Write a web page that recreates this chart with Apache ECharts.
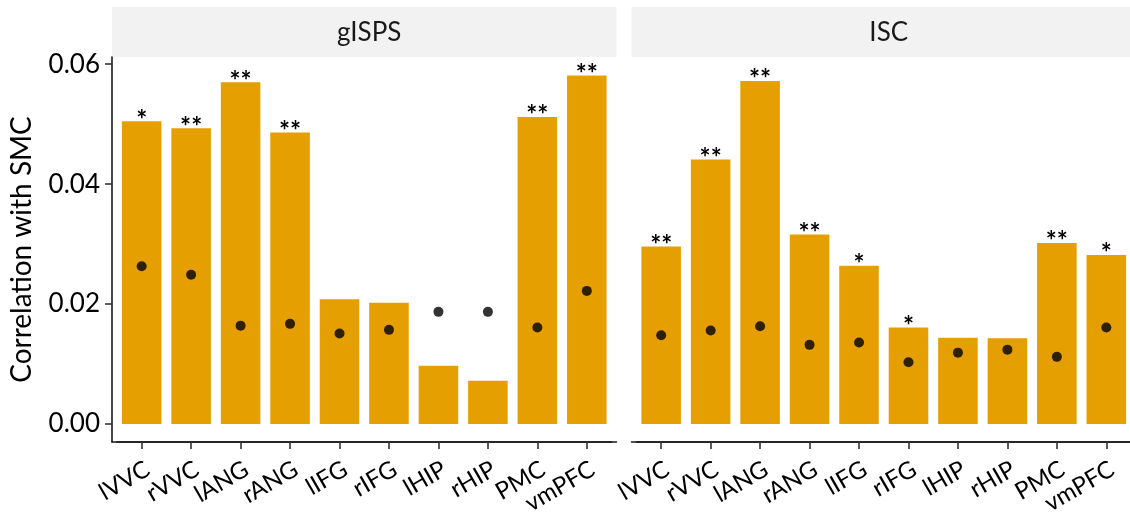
<!DOCTYPE html>
<html>
<head>
<meta charset="utf-8">
<script src="https://cdn.jsdelivr.net/npm/echarts@6/dist/echarts.min.js"></script>
<style>
html,body{margin:0;padding:0;background:#fff;}
#chart{width:1130px;height:514px;}
</style>
</head>
<body>
<div id="chart"></div>
<script>
const categories = ['lVVC','rVVC','lANG','rANG','lIFG','rIFG','lHIP','rHIP','PMC','vmPFC'];
const panels = ['gISPS','ISC'];
const yTicks = [0, 0.02, 0.04, 0.06];

const gispsBars = [0.0505, 0.0493, 0.0570, 0.0486, 0.0208, 0.0202, 0.0097, 0.0072, 0.0512, 0.0581];
const gispsDots = [0.0263, 0.0249, 0.0164, 0.0167, 0.0151, 0.0157, 0.0187, 0.0187, 0.0161, 0.0222];
const gispsStars = ['*','**','**','**','','','','','**','**'];

const iscBars = [0.0296, 0.0441, 0.0572, 0.0316, 0.0264, 0.0161, 0.0144, 0.0143, 0.0302, 0.0282];
const iscDots = [0.0148, 0.0156, 0.0163, 0.0132, 0.0136, 0.0103, 0.0119, 0.0124, 0.0112, 0.0161];
const iscStars = ['**','**','**','**','*','*','','','**','*'];

const FONT = 'Lato';
const barColor = '#E69F00';
const chart = echarts.init(document.getElementById('chart'), null, {renderer:'canvas'});

// panel geometry (ggplot discrete expansion of 0.6 band on each side)
const PANEL_W = 504.5, TOP = 57, H = 385;
const panelLefts = [112, 631.5];
const band = PANEL_W / 10.2;
const inset = 0.1 * band;
const YMIN = -0.003, YMAX = 0.0612;

const grids = [];
panelLefts.forEach(l => grids.push({left: l, top: TOP, width: PANEL_W, height: H, outerBoundsMode: 'none', containLabel: false}));
panelLefts.forEach(l => grids.push({left: l + inset, top: TOP, width: PANEL_W - 2 * inset, height: H, outerBoundsMode: 'none', containLabel: false}));

const lineStyle = {color: '#1a1a1a', width: 1.6};
const xAxes = [], yAxes = [];
// outer grids: axis lines (and y axis for first panel)
[0, 1].forEach(i => {
  xAxes.push({
    type: 'value', gridIndex: i, min: 0, max: 1,
    axisLine: {show: true, onZero: false, lineStyle: lineStyle},
    axisTick: {show: false}, axisLabel: {show: false}, splitLine: {show: false}
  });
  const first = i === 0;
  yAxes.push({
    type: 'value', gridIndex: i, min: YMIN, max: YMAX,
    name: first ? 'Correlation with SMC' : '', nameLocation: 'middle', nameGap: 76,
    nameTextStyle: {fontFamily: FONT, fontSize: 28, color: '#000'},
    axisLine: {show: first, onZero: false, lineStyle: lineStyle},
    axisTick: {show: first, customValues: yTicks, length: 7, lineStyle: {color: '#333', width: 1.6}},
    axisLabel: {show: first, customValues: yTicks, margin: 12, fontFamily: FONT, fontSize: 26, color: '#000',
      formatter: v => v.toFixed(2)},
    splitLine: {show: false}
  });
});
// inner grids: categories, bars, dots
[2, 3].forEach(i => {
  xAxes.push({
    type: 'category', gridIndex: i, data: categories, boundaryGap: true, position: 'bottom',
    axisLine: {show: true, onZero: false, lineStyle: lineStyle},
    axisTick: {show: true, inside: false, alignWithLabel: true, interval: 0, length: 7, lineStyle: {color: '#333', width: 1.6}},
    axisLabel: {
      show: true, interval: 0, rotate: 30, margin: 15,
      align: 'right', verticalAlign: 'top', hideOverlap: false,
      fontFamily: FONT, fontSize: 24, color: '#000'
    },
    splitLine: {show: false}
  });
  yAxes.push({
    type: 'value', gridIndex: i, min: YMIN, max: YMAX, show: false, splitLine: {show: false}
  });
});

function barSeries(idx, vals, stars) {
  return {
    type: 'bar', xAxisIndex: idx, yAxisIndex: idx, barWidth: '80%',
    data: vals,
    itemStyle: {color: barColor},
    label: {show: true, position: 'top', distance: -12,
      fontFamily: FONT, fontSize: 26, fontWeight: 'bold', color: '#000',
      formatter: p => stars[p.dataIndex]},
    z: 2
  };
}
function dotSeries(idx, vals) {
  return {
    type: 'scatter', xAxisIndex: idx, yAxisIndex: idx, symbolSize: 10,
    data: vals,
    itemStyle: {color: '#000'}, z: 5
  };
}

const stripGraphics = panelLefts.map(l => ({
  type: 'rect', shape: {x: l, y: 7, width: PANEL_W, height: 50},
  style: {fill: '#F2F2F2'}, silent: true, z: -1
}));

chart.setOption({
  animation: false,
  backgroundColor: '#fff',
  grid: grids,
  xAxis: xAxes,
  yAxis: yAxes,
  title: panels.map((p, i) => ({
    text: p, left: panelLefts[i] + PANEL_W / 2, top: 15,
    textAlign: 'center',
    textStyle: {fontFamily: FONT, fontSize: 26, fontWeight: 'normal', color: '#1a1a1a'}
  })),
  graphic: stripGraphics,
  series: [
    barSeries(2, gispsBars, gispsStars), dotSeries(2, gispsDots),
    barSeries(3, iscBars, iscStars), dotSeries(3, iscDots)
  ]
});
</script>
</body>
</html>
